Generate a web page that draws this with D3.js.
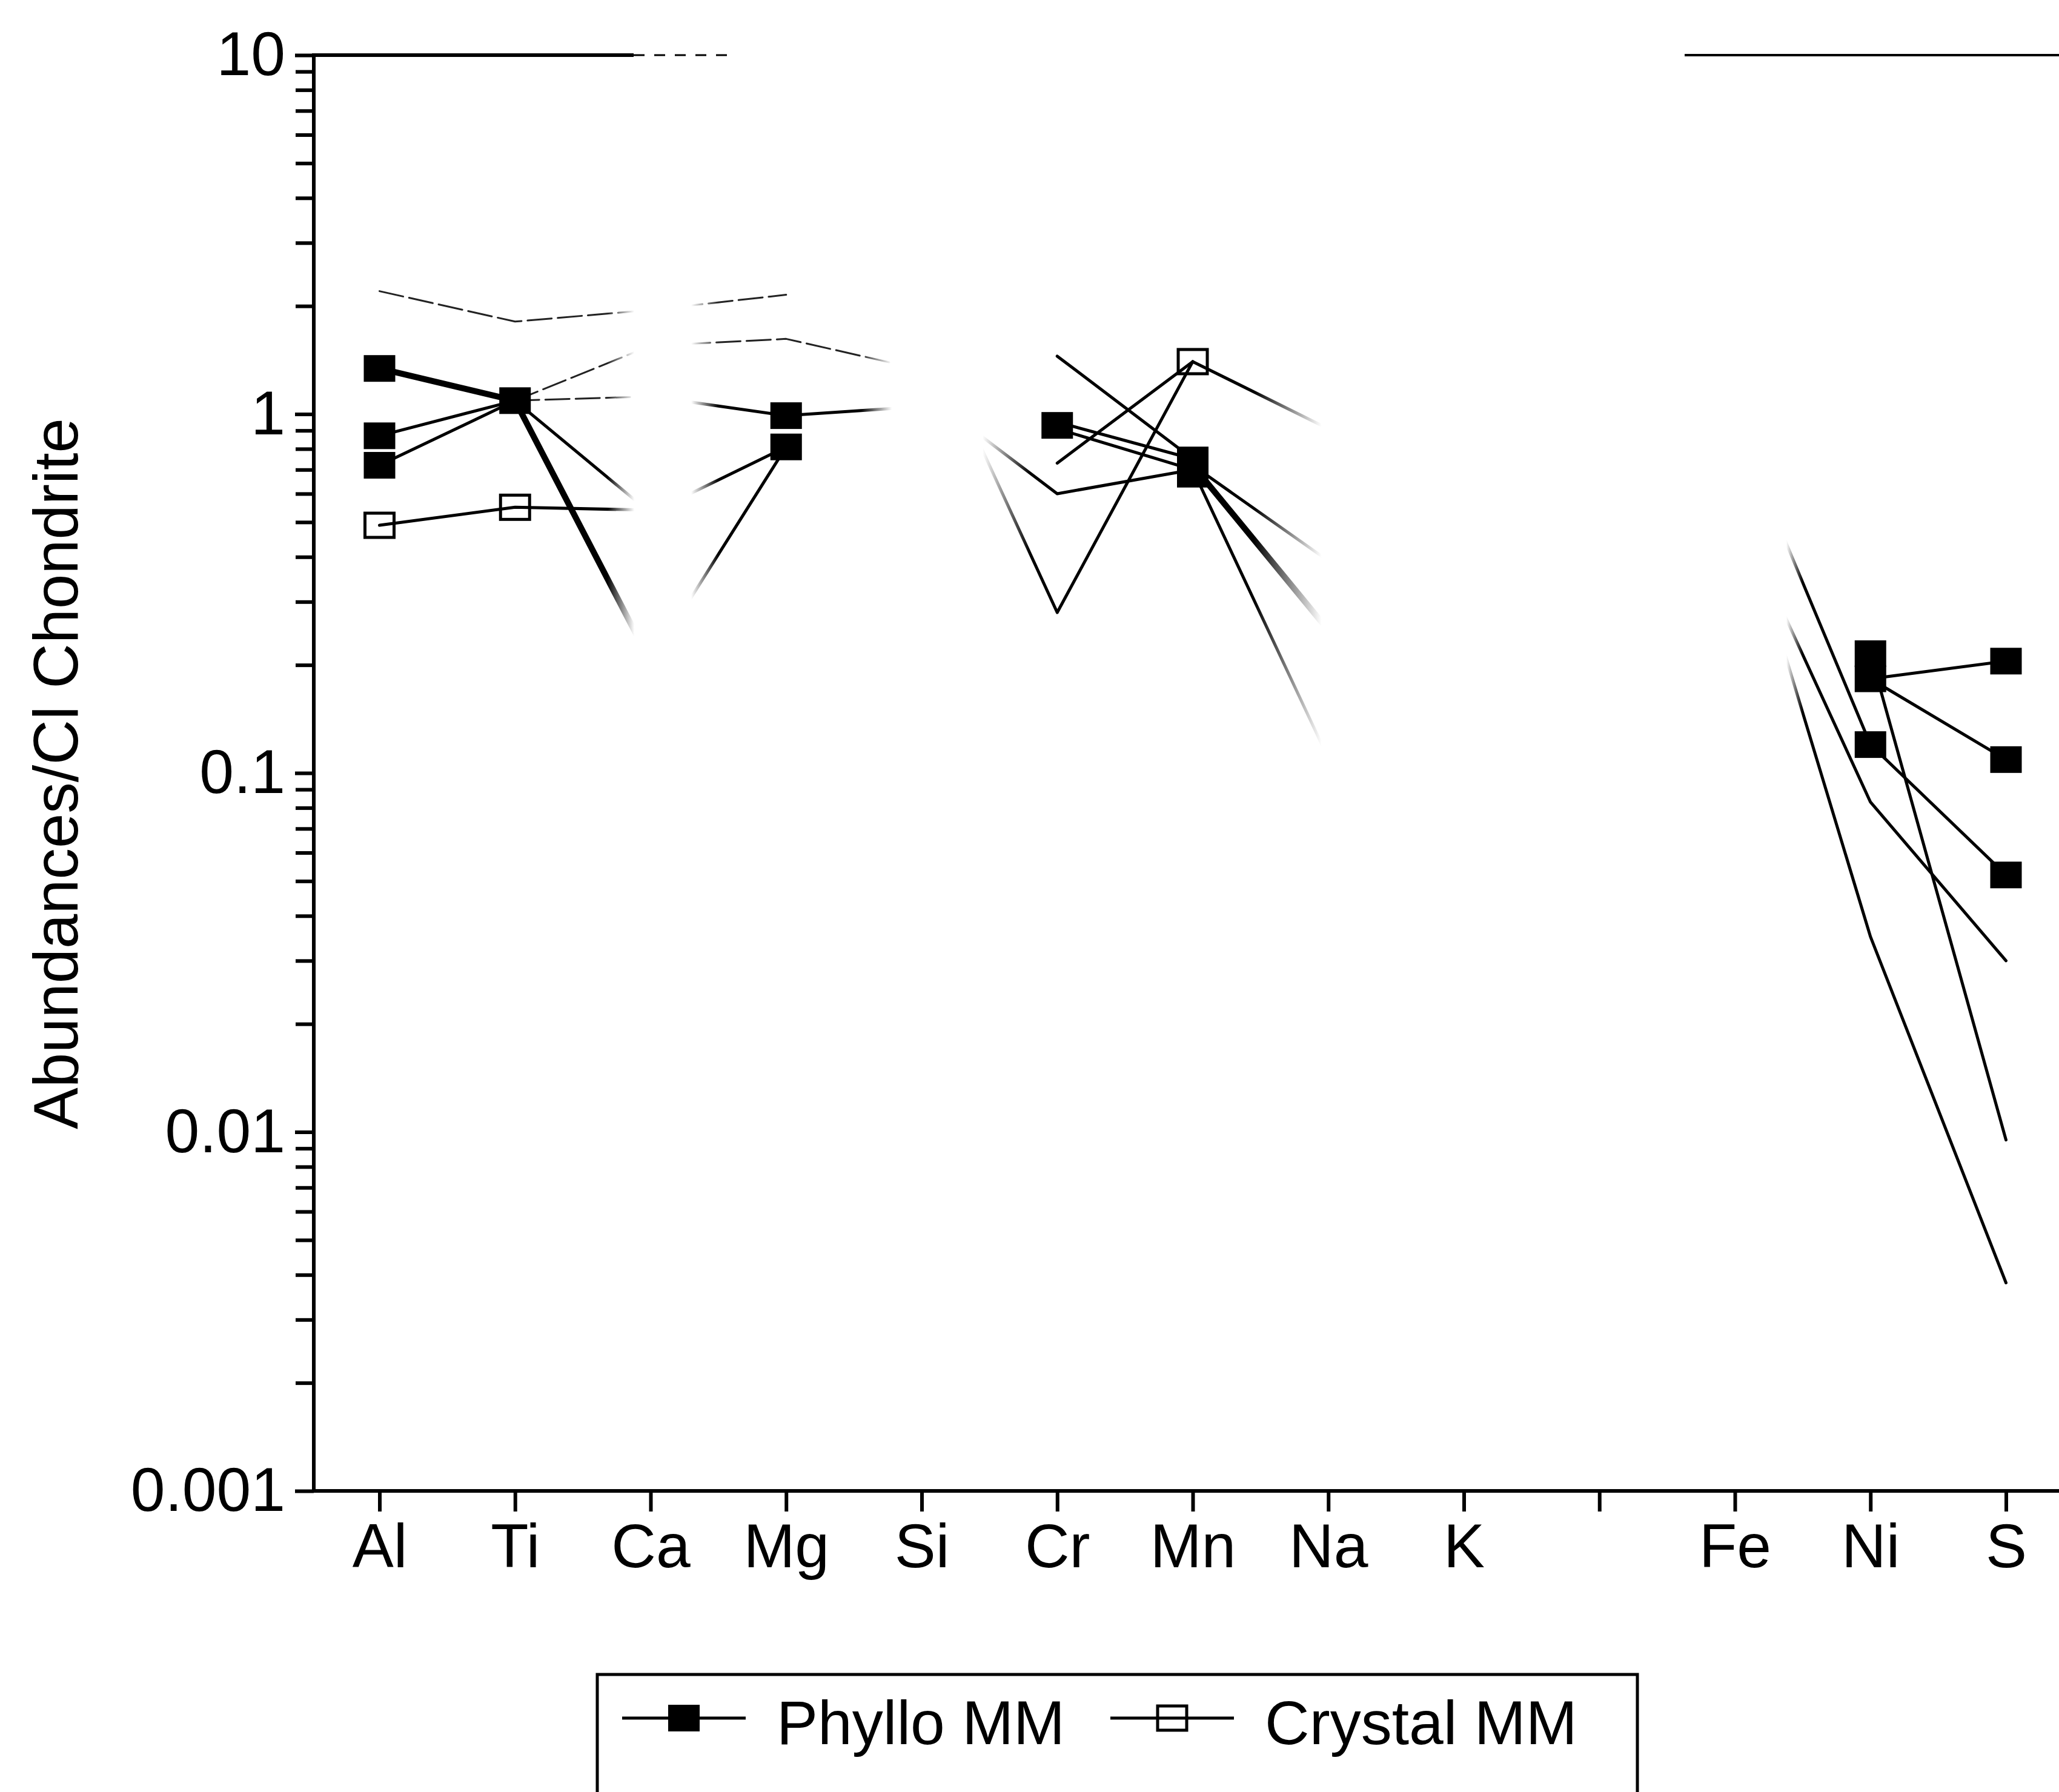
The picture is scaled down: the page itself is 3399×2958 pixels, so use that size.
<!DOCTYPE html>
<html>
<head>
<meta charset="utf-8">
<script src="https://cdn.jsdelivr.net/npm/d3@7"></script>
<style>
  html, body { margin: 0; padding: 0; background: #fff; }
  svg { display: block; font-family: "Liberation Sans", Arial, Helvetica, sans-serif; }
</style>
</head>
<body>
<svg id="chart" width="3399" height="2958"></svg>
<script>
// ========= Data =========
const elements = ['Al', 'Ti', 'Ca', 'Mg', 'Si', 'Cr', 'Mn', 'Na', 'K', '', 'Fe', 'Ni', 'S'];
const yTickValues = [10, 1, 0.1, 0.01, 0.001];

// phyllosilicate MM traces, heavy strokes
const phylloHeavy = [
  [['Al', 1.34], ['Ti', 1.09]],
  [['Ti', 1.09], ['Ca', 0.204]],
  [['Mn', 0.72], ['Na', 0.25]]
];

// phyllosilicate MM traces, normal strokes
const phylloLines = [
  [['Al', 0.87], ['Ti', 1.09]],
  [['Al', 0.72], ['Ti', 1.09]],
  [['Ti', 1.09], ['Ca', 0.53], ['Mg', 0.81]],
  [['Ca', 0.204], ['Mg', 0.81]],
  [['Ca', 1.12], ['Mg', 0.99], ['Si', 1.05]],
  [['Cr', 0.95], ['Mn', 0.75]],
  [['Cr', 0.91], ['Mn', 0.70]],
  [['Cr', 1.45], ['Mn', 0.75]],
  [['Si', 1.16], ['Cr', 0.60], ['Mn', 0.70]],
  [['Mn', 0.72], ['Na', 0.39]],
  [['Mn', 0.70], ['Na', 0.11]],
  [['Ni', 0.215], ['S', 0.0095]],
  [['Ni', 0.183], ['S', 0.205]],
  [['Ni', 0.183], ['S', 0.109]],
  [['Fe', 0.96], ['Ni', 0.12], ['S', 0.052]],
  [['Fe', 0.55], ['Ni', 0.083], ['S', 0.030]],
  [['Fe', 0.62], ['Ni', 0.035], ['S', 0.0038]]
];

// crystalline MM traces
const crystalLines = [
  [['Al', 0.49], ['Ti', 0.55], ['Ca', 0.54]],
  [['Si', 1.85], ['Cr', 0.28], ['Mn', 1.4], ['Na', 0.91]],
  [['Cr', 0.73], ['Mn', 1.4]]
];

// thin traces that are barely legible in the scan
const faintLines = [
  [['Al', 2.2], ['Ti', 1.81], ['Ca', 1.95], ['Mg', 2.15]],
  [['Ti', 1.09], ['Ca', 1.12]],
  [['Ti', 1.09], ['Ca', 1.55], ['Mg', 1.62], ['Si', 1.33]]
];

const phylloPoints = [
  ['Al', 1.34], ['Al', 0.87], ['Al', 0.72], ['Ti', 1.09],
  ['Mg', 0.99], ['Mg', 0.81], ['Cr', 0.93], ['Mn', 0.745], ['Mn', 0.68],
  ['Ni', 0.215], ['Ni', 0.183], ['Ni', 0.12],
  ['S', 0.205], ['S', 0.109], ['S', 0.052]
];
const crystalPoints = [['Al', 0.49], ['Ti', 0.55], ['Mn', 1.4]];

const legendItems = [{label: 'Phyllo MM', filled: true}, {label: 'Crystal MM', filled: false}];

// ========= Layout =========
const W = 3399, H = 2958;
const plotL = 518, plotT = 91, plotB = 2461, plotR = W;
const fontSize = 102;

const svg = d3.select('#chart');
svg.append('rect').attr('width', W).attr('height', H).attr('fill', '#fff');

const x = d3.scalePoint().domain(elements).range([626.5, 3311.5]);
const y = d3.scaleLog().domain([0.001, 10]).range([plotB, plotT]);

// ========= Scan fading =========
// the print has lost ink in vertical bands (around Ca, Si and Na..Fe)
const step = x.step();
const fadeStops = [
  [0, 1],
  [x('Ti') + step * 0.68, 1], [x('Ti') + step * 0.88, 0],
  [x('Ca') + step * 0.30, 0], [x('Ca') + step * 0.50, 1],
  [x('Mg') + step * 0.55, 1], [x('Mg') + step * 0.78, 0],
  [x('Si') + step * 0.45, 0], [x('Si') + step * 0.80, 1],
  [x('Mn') + step * 0.45, 1], [x('Mn') + step * 0.95, 0],
  [x('Fe') + step * 0.38, 0], [x('Fe') + step * 0.50, 1],
  [W, 1]
];
const defs = svg.append('defs');
const grad = defs.append('linearGradient').attr('id', 'fadeGrad')
  .attr('gradientUnits', 'userSpaceOnUse')
  .attr('x1', 0).attr('y1', 0).attr('x2', W).attr('y2', 0);
grad.selectAll('stop').data(fadeStops).enter().append('stop')
  .attr('offset', d => d[0] / W)
  .attr('stop-color', d => d3.rgb(255 * d[1], 255 * d[1], 255 * d[1]).formatHex());
defs.append('mask').attr('id', 'fade')
  .attr('maskUnits', 'userSpaceOnUse').attr('x', 0).attr('y', 0).attr('width', W).attr('height', H)
  .append('rect').attr('width', W).attr('height', H).attr('fill', 'url(#fadeGrad)');

// ========= Axes =========
const minorTicks = [];
[0.001, 0.01, 0.1, 1].forEach(d => { for (let k = 2; k <= 9; k++) minorTicks.push(d * k); });

const yAxisMinor = svg.append('g')
  .attr('transform', `translate(${plotL},0)`)
  .call(d3.axisLeft(y).tickValues(minorTicks).tickSize(30).tickFormat(''));

const yAxis = svg.append('g')
  .attr('transform', `translate(${plotL},0)`)
  .call(d3.axisLeft(y).tickValues(yTickValues).tickSize(31).tickPadding(16).tickFormat(d => String(d)));

const xAxis = svg.append('g')
  .attr('transform', `translate(0,${plotB})`)
  .call(d3.axisBottom(x).tickSize(34).tickPadding(20));

[yAxisMinor, yAxis, xAxis].forEach(g => {
  g.select('.domain').remove();
  g.selectAll('line').attr('stroke', '#000').attr('stroke-width', 6);
  g.selectAll('text').attr('fill', '#000').attr('font-size', fontSize)
    .attr('font-family', '"Liberation Sans", Arial, sans-serif');
});

// frame (the scan lost parts of the top border)
const frame = svg.append('g').attr('stroke', '#000').attr('stroke-width', 6).attr('fill', 'none');
frame.append('line').attr('x1', plotL).attr('y1', plotT - 3).attr('x2', plotL).attr('y2', plotB + 3);
frame.append('line').attr('x1', plotL - 3).attr('y1', plotB).attr('x2', plotR).attr('y2', plotB);
frame.append('line').attr('x1', plotL).attr('y1', plotT).attr('x2', 1046).attr('y2', plotT);
frame.append('line').attr('x1', 1046).attr('y1', plotT).attr('x2', 1213).attr('y2', plotT)
  .attr('stroke-width', 3).attr('stroke-dasharray', '18 16');
frame.append('line').attr('x1', 2781).attr('y1', plotT).attr('x2', plotR).attr('y2', plotT).attr('stroke-width', 4);

// axis title
svg.append('text')
  .attr('transform', `translate(128,1277) rotate(-90)`)
  .attr('text-anchor', 'middle')
  .attr('font-size', 103)
  .attr('fill', '#000')
  .text('Abundances/Cl Chondrite');

// ========= Traces =========
const line = d3.line().x(d => x(d[0])).y(d => y(d[1]));
const traces = svg.append('g').attr('mask', 'url(#fade)')
  .attr('fill', 'none').attr('stroke', '#000')
  .attr('stroke-linejoin', 'round').attr('stroke-linecap', 'round');

traces.selectAll('.faint').data(faintLines).enter().append('path')
  .attr('class', 'faint').attr('d', line)
  .attr('stroke', '#222').attr('stroke-width', 3).attr('stroke-dasharray', '40 10');

traces.selectAll('.phyllo').data(phylloLines).enter().append('path')
  .attr('class', 'phyllo').attr('d', line).attr('stroke-width', 5);

traces.selectAll('.crystal').data(crystalLines).enter().append('path')
  .attr('class', 'crystal').attr('d', line).attr('stroke-width', 5);

traces.selectAll('.heavy').data(phylloHeavy).enter().append('path')
  .attr('class', 'heavy').attr('d', line).attr('stroke-width', 10);

// ========= Markers =========
const mw = 52, mh = 44;
svg.append('g').selectAll('rect').data(phylloPoints).enter().append('rect')
  .attr('x', d => x(d[0]) - mw / 2).attr('y', d => y(d[1]) - mh / 2)
  .attr('width', mw).attr('height', mh).attr('fill', '#000');

svg.append('g').selectAll('rect').data(crystalPoints).enter().append('rect')
  .attr('x', d => x(d[0]) - mw / 2 + 2).attr('y', d => y(d[1]) - mh / 2 + 2)
  .attr('width', mw - 4).attr('height', mh - 4)
  .attr('fill', 'none').attr('stroke', '#000').attr('stroke-width', 5);

// ========= Legend =========
const legend = svg.append('g');
legend.append('rect').attr('x', 986).attr('y', 2764).attr('width', 1717).attr('height', 400)
  .attr('fill', 'none').attr('stroke', '#000').attr('stroke-width', 5);

const legendX = [1027, 1833];
const entry = legend.selectAll('.entry').data(legendItems).enter().append('g')
  .attr('class', 'entry')
  .attr('transform', (d, i) => `translate(${legendX[i]},2836)`);

entry.append('line').attr('x1', 0).attr('x2', 204).attr('stroke', '#000').attr('stroke-width', 5);
entry.append('rect')
  .attr('x', d => d.filled ? 102 - mw / 2 : 102 - mw / 2 + 2)
  .attr('y', d => d.filled ? -mh / 2 : -mh / 2 + 2)
  .attr('width', d => d.filled ? mw : mw - 4)
  .attr('height', d => d.filled ? mh : mh - 4)
  .attr('fill', d => d.filled ? '#000' : 'none')
  .attr('stroke', '#000').attr('stroke-width', d => d.filled ? 0 : 5);
entry.append('text').attr('x', 255).attr('y', 43)
  .attr('font-size', fontSize).attr('fill', '#000')
  .text(d => d.label);
</script>
</body>
</html>
